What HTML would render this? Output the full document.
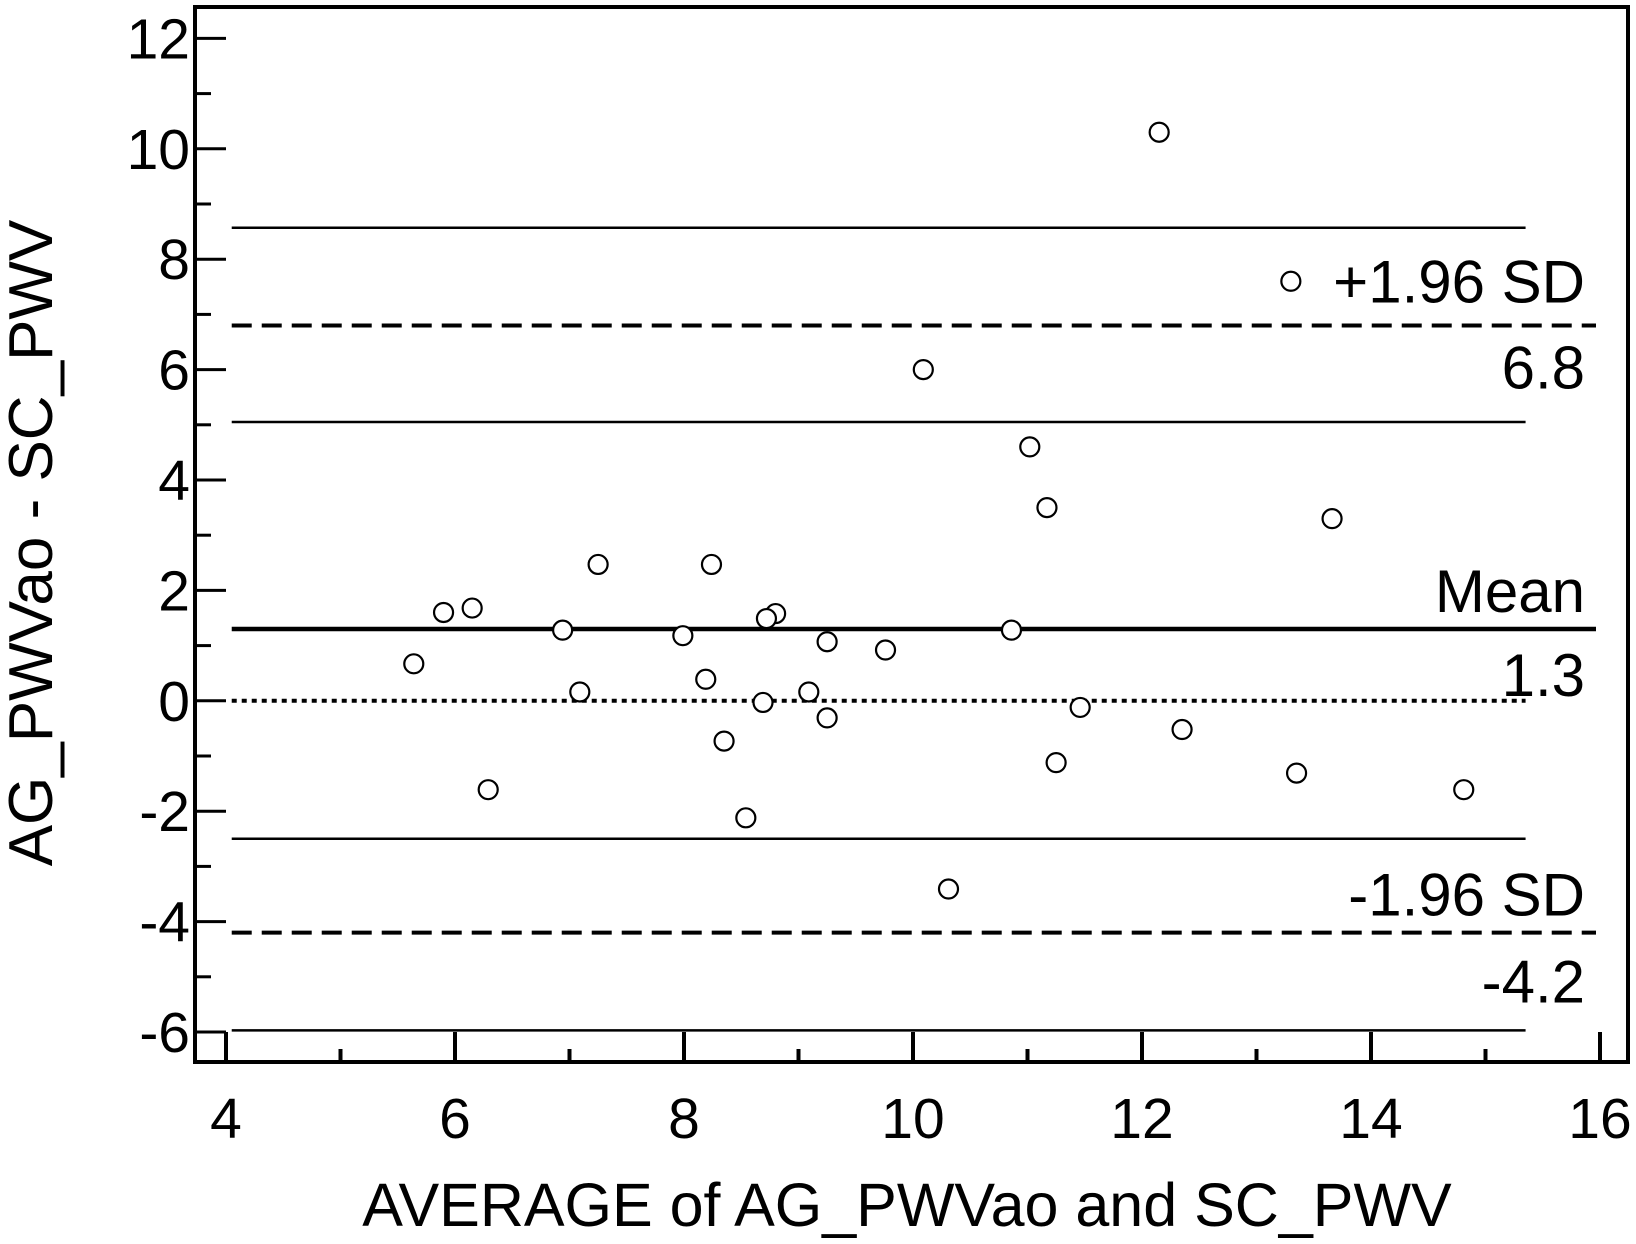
<!DOCTYPE html>
<html><head><meta charset="utf-8"><style>
html,body{margin:0;padding:0;background:#fff}
svg{display:block;font-family:"Liberation Sans",Arial,sans-serif}
</style></head><body>
<svg id="chart" width="1636" height="1244" viewBox="0 0 1636 1244">
<g id="axes"></g><g id="lines"></g><g id="points"></g><g id="labels"></g>
</svg>
<script>
const xVals=[12.15,13.3,10.09,11.02,11.17,13.66,7.25,8.24,6.15,5.9,8.8,8.72,6.94,10.86,7.99,9.25,9.76,5.64,8.19,7.09,9.09,8.69,11.46,9.25,12.35,8.35,11.25,13.35,6.29,14.81,8.54,10.31];
const yVals=[10.3,7.6,6.0,4.6,3.5,3.3,2.47,2.47,1.68,1.6,1.58,1.49,1.28,1.28,1.18,1.07,0.92,0.67,0.39,0.16,0.16,-0.03,-0.12,-0.31,-0.52,-0.73,-1.12,-1.31,-1.61,-1.61,-2.12,-3.41];
const xTicks=[4,6,8,10,12,14,16];
const yTicks=[-6,-4,-2,0,2,4,6,8,10,12];
const meanVal=1.3, upperLoA=6.8, lowerLoA=-4.2;
const upperCI=[8.57,5.05], lowerCI=[-2.5,-5.97];

const NS="http://www.w3.org/2000/svg";
const X=v=>226+(v-4)*114.5;
const Y=v=>1032-(v+6)*55.2;
function mk(tag,attrs,parent,text){const e=document.createElementNS(NS,tag);for(const k in attrs)e.setAttribute(k,attrs[k]);if(text!==undefined)e.textContent=text;document.getElementById(parent).appendChild(e);return e;}

let f=mk('rect',{x:195,y:7,width:1433,height:1055,fill:'none',stroke:'#000','stroke-width':4},'axes');


for(let v=4;v<=16;v++){const major=v%2===0;let t=mk('line',{x1:X(v),x2:X(v),y1:1062,y2:major?1032:1049,stroke:'#000','stroke-width':4},'axes');

}
xTicks.forEach(v=>{let t=mk('text',{x:X(v),y:1138,'font-size':57,'text-anchor':'middle'},'labels',String(v));

});
for(let v=-6;v<=12;v++){const major=v%2===0;let t=mk('line',{x1:195,x2:major?226:211,y1:Y(v),y2:Y(v),stroke:'#000','stroke-width':3},'axes');

}
yTicks.forEach(v=>{let t=mk('text',{x:190,y:Y(v)+20,'font-size':57,'text-anchor':'end'},'labels',String(v));

});
function hline(v,x2,w,dash,name){let l=mk('line',{x1:X(4.05),x2:x2,y1:Y(v),y2:Y(v),stroke:'#000','stroke-width':w},'lines');if(dash)l.setAttribute('stroke-dasharray',dash);

}
hline(upperCI[0],X(15.35),2.5,null,'upper-loa-ci-upper');
hline(upperLoA,1596,4,'20 10','upper-loa-line');
hline(upperCI[1],X(15.35),2.5,null,'upper-loa-ci-lower');
hline(meanVal,1596,4.5,null,'mean-line');
hline(0,X(15.35),4,'5 5','zero-line');
hline(lowerCI[0],X(15.35),2.5,null,'lower-loa-ci-upper');
hline(lowerLoA,1596,4,'20 10','lower-loa-line');
hline(lowerCI[1],X(15.35),2.5,null,'lower-loa-ci-lower');
xVals.forEach((xv,i)=>{let c=mk('circle',{cx:X(xv),cy:Y(yVals[i]),r:9.5,fill:'#fff',stroke:'#000','stroke-width':2.2},'points');

});
const rl=[['+1.96 SD',Y(upperLoA)-23,'upper-loa-label'],[upperLoA.toFixed(1),Y(upperLoA)+63,'upper-loa-value'],['Mean',Y(meanVal)-17,'mean-label'],[meanVal.toFixed(1),Y(meanVal)+67,'mean-value'],['-1.96 SD',Y(lowerLoA)-17,'lower-loa-label'],[lowerLoA.toFixed(1),Y(lowerLoA)+70,'lower-loa-value']];
rl.forEach(r=>{let t=mk('text',{x:1585,y:r[1],'font-size':60,'text-anchor':'end'},'labels',r[0]);

});
let xt=mk('text',{x:907,y:1226,'font-size':61,'text-anchor':'middle'},'labels','AVERAGE of AG_PWVao and SC_PWV');


let yt=mk('text',{x:0,y:0,'font-size':62,'text-anchor':'middle',transform:'translate(52,543) rotate(-90)'},'labels','AG_PWVao - SC_PWV');


</script>
</body></html>
